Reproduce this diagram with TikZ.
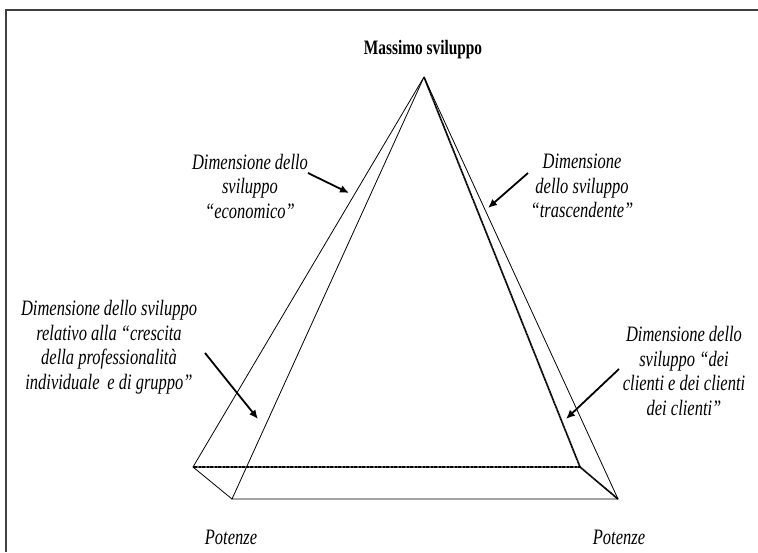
\documentclass[tikz,border=0pt]{standalone}
\usepackage{fontspec}
\setmainfont{Liberation Serif}[FakeStretch=0.75]
\usetikzlibrary{arrows.meta}
\tikzset{
  lbl/.style={font=\fontsize{22}{24.5}\selectfont\itshape, align=center, inner sep=0pt},
  edge/.style={line width=0.8pt},
  backedge/.style={line width=1.7pt, dash pattern=on 1.2pt off 0.4pt},
  pointer/.style={line width=1.8pt, -{Latex[length=9pt,width=8pt]}}
}
\begin{document}
\begin{tikzpicture}[x=1pt, y=-1pt]
  \useasboundingbox (0,0) rectangle (758,552);
  % frame, only top and left
  \draw[line width=1.2pt, black!75] (758,10) -- (6,10) -- (6,552);
  % pyramid corners
  \coordinate (apex) at (424,77);
  \coordinate (bl) at (193,467);
  \coordinate (br) at (580,467);
  \coordinate (fl) at (232,499);
  \coordinate (fr) at (618,499);
  \draw[backedge] (apex) -- (br) -- (bl);
  \draw[backedge] (br) -- (fr);
  \draw[edge] (apex) -- (bl) -- (fl);
  \draw[edge] (apex) -- (fl) -- (fr) -- (apex);
  % labels
  \node[font=\fontsize{20.5}{22}\selectfont\bfseries, inner sep=0pt] (top) at (423,50) {Massimo sviluppo};
  \node[lbl] (econ) at (250,186) {Dimensione dello\\sviluppo\\``economico''};
  \node[lbl] (trasc) at (582,186) {Dimensione\\dello sviluppo\\``trascendente''};
  \node[lbl] (prof) at (109,347) {Dimensione dello sviluppo\\relativo alla ``crescita\\della professionalità\\individuale\, e di gruppo''};
  \node[lbl] (clienti) at (684,371) {Dimensione dello\\sviluppo ``dei\\clienti e dei clienti\\dei clienti''};
  \node[lbl] (potL) at (231,537) {Potenze};
  \node[lbl] (potR) at (619,537) {Potenze};
  % pointers
  \coordinate (p1) at (308,173); \coordinate (q1) at (349,193);
  \coordinate (p2) at (528,173); \coordinate (q2) at (488,208);
  \coordinate (p3) at (205,353); \coordinate (q3) at (258,419);
  \coordinate (p4) at (619,369); \coordinate (q4) at (566,419);
  \draw[pointer] (p1) -- (q1);
  \draw[pointer] (p2) -- (q2);
  \draw[pointer] (p3) -- (q3);
  \draw[pointer] (p4) -- (q4);
\end{tikzpicture}
\end{document}
